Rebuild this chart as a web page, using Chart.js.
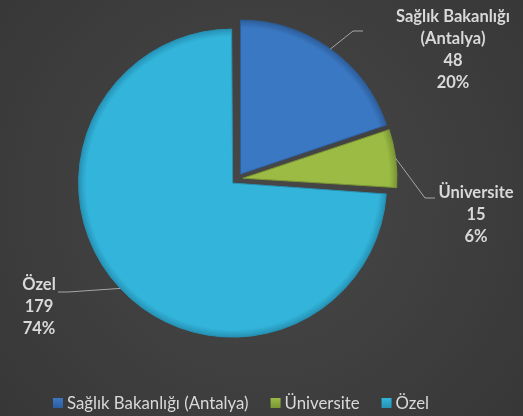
<!DOCTYPE html>
<html><head><meta charset="utf-8">
<script src="https://cdn.jsdelivr.net/npm/chart.js@4/dist/chart.umd.min.js"></script>
<style>html,body{margin:0;padding:0;background:#3d3d3d;overflow:hidden}canvas{display:block}</style>
</head><body><canvas id="c" width="523" height="416"></canvas>
<script>
// ---- data ----
const categories = ['Sağlık Bakanlığı (Antalya)', 'Üniversite', 'Özel'];
const labelLines = [['Sağlık Bakanlığı', '(Antalya)'], ['Üniversite'], ['Özel']];
const values = [48, 15, 179];

// ---- styles ----
const fills = ['#3b78c3', '#9bbb45', '#33b5db'];
const edges = ['#2c5e9c', '#7a9634', '#2692b6'];
const textColor = '#d9d9d9';
const lineColor = '#a6a6a6';
const labelFont = 'bold 16.5px Lato';
const legendFont = '16.8px Lato';
const R = 154;
const OFFSET = 24; // Chart.js draws offset/4 pixels
// label layout: elbow and end point of leader line, text center x, first line y
const labelLayout = [
  {elbow: [353, 31], end: [363, 31], tx: 453, ty: 17},
  {elbow: [425, 198], end: [435, 198], tx: 476, ty: 193},
  {elbow: [68, 292], end: [58, 292], tx: 39, ty: 285}
];
const lineStep = 22;

const total = values.reduce((a, b) => a + b, 0);

function sliceFill(c) {
  const i = c.dataIndex;
  const ca = c.chart.chartArea;
  if (!ca) return fills[i];
  const cx = (ca.left + ca.right) / 2, cy = (ca.top + ca.bottom) / 2;
  const g = c.chart.ctx.createRadialGradient(cx, cy, 0, cx, cy, R);
  g.addColorStop(0, fills[i]);
  g.addColorStop(0.95, fills[i]);
  g.addColorStop(1, edges[i]);
  return g;
}

const bgPlugin = {
  id: 'bg',
  beforeDraw(chart) {
    const ctx = chart.ctx;
    const g = ctx.createRadialGradient(260, 200, 0, 260, 200, 340);
    g.addColorStop(0, '#484848');
    g.addColorStop(1, '#373737');
    ctx.save();
    ctx.fillStyle = g;
    ctx.fillRect(0, 0, chart.width, chart.height);
    ctx.restore();
  }
};

// keep all exploded slices at the same radius (Chart.js enlarges wide slices by the offset)
const radiusFix = {
  id: 'radiusFix',
  afterUpdate(chart) {
    chart.getDatasetMeta(0).data.forEach(arc => {
      const circ = arc.circumference;
      const fix = 1 - Math.sin(Math.min(Math.PI, circ || 0));
      arc.outerRadius = R - (OFFSET / 4) * fix;
    });
  }
};

const labelPlugin = {
  id: 'labels',
  afterDatasetsDraw(chart) {
    const ctx = chart.ctx;
    const meta = chart.getDatasetMeta(0);
    ctx.save();
    meta.data.forEach((arc, i) => {
      const p = arc.getProps(['x', 'y', 'startAngle', 'endAngle'], true);
      const off = OFFSET / 4;
      const mid = (p.startAngle + p.endAngle) / 2;
      const sx = p.x + Math.cos(mid) * (off + R);
      const sy = p.y + Math.sin(mid) * (off + R);
      const L = labelLayout[i];
      ctx.strokeStyle = lineColor;
      ctx.lineWidth = 1;
      ctx.beginPath();
      ctx.moveTo(sx, sy);
      ctx.lineTo(L.elbow[0], L.elbow[1]);
      ctx.lineTo(L.end[0], L.end[1]);
      ctx.stroke();
      const lines = labelLines[i].concat([String(values[i]), Math.round(values[i] / total * 100) + '%']);
      ctx.fillStyle = textColor;
      ctx.font = labelFont;
      ctx.textAlign = 'center';
      ctx.textBaseline = 'middle';
      lines.forEach((t, k) => ctx.fillText(t, L.tx, L.ty + k * lineStep));
    });
    ctx.restore();
  },
  afterDraw(chart) {
    const ctx = chart.ctx;
    ctx.save();
    ctx.font = legendFont;
    const box = 10, gap = 4, itemGap = 22, cy = 403, centerX = 241;
    const widths = categories.map(c => ctx.measureText(c).width);
    const totalW = widths.reduce((a, w) => a + box + gap + w, 0) + itemGap * (categories.length - 1);
    let x = centerX - totalW / 2;
    categories.forEach((c, i) => {
      const g = ctx.createLinearGradient(0, cy - box / 2, 0, cy + box / 2);
      g.addColorStop(0, fills[i]);
      g.addColorStop(1, edges[i]);
      ctx.fillStyle = g;
      ctx.fillRect(x, cy - box / 2, box, box);
      ctx.fillStyle = textColor;
      ctx.textAlign = 'left';
      ctx.textBaseline = 'middle';
      ctx.fillText(c, x + box + gap, cy + 1);
      x += box + gap + widths[i] + itemGap;
    });
    ctx.restore();
  }
};

new Chart(document.getElementById('c'), {
  type: 'pie',
  data: {
    labels: categories,
    datasets: [{
      data: values,
      backgroundColor: sliceFill,
      borderColor: edges,
      borderWidth: 1,
      offset: OFFSET,
      hoverOffset: 0
    }]
  },
  options: {
    responsive: false,
    animation: false,
    radius: R,
    layout: {padding: {left: 20, right: 69, top: 10, bottom: 68}},
    plugins: {legend: {display: false}, tooltip: {enabled: false}}
  },
  plugins: [bgPlugin, radiusFix, labelPlugin]
});
</script>
</body></html>
